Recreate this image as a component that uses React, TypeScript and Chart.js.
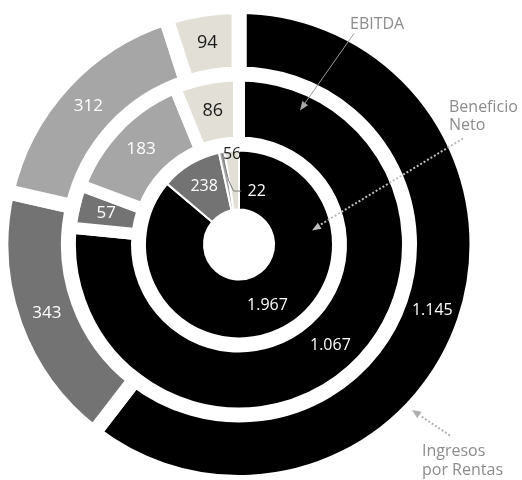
import React, { useEffect, useRef } from 'react';
import { Chart, registerables } from 'chart.js';

Chart.register(...registerables);

// ---- data ----
const categories = ['Segmento A', 'Segmento B', 'Segmento C', 'Segmento D'];
const ringNames = ['Ingresos por Rentas', 'EBITDA', 'Beneficio Neto'];
const ingresos = [1145, 343, 312, 94];
const ebitda = [1067, 57, 183, 86];
const beneficio = [1967, 238, 22, 56];

// ---- style ----
const COLORS = ['#000000', '#737373', '#a6a6a6', '#e2dfd6'];
const LABEL_DARK = '#1a1a1a';
const NOTE_COLOR = '#8c8c8c';
const FONT = '"Open Sans", "Noto Sans", sans-serif';

const fmt = (n: number) => String(n).replace(/\B(?=(\d{3})+(?!\d))/g, '.');

const RING_DATASETS = [0, 1, 3];

function arrowHead(ctx: CanvasRenderingContext2D, fx: number, fy: number, tx: number, ty: number, len: number, wid: number, color: string) {
  const a = Math.atan2(ty - fy, tx - fx);
  ctx.save();
  ctx.fillStyle = color;
  ctx.beginPath();
  ctx.moveTo(tx, ty);
  ctx.lineTo(tx - len * Math.cos(a) + (wid / 2) * Math.sin(a), ty - len * Math.sin(a) - (wid / 2) * Math.cos(a));
  ctx.lineTo(tx - len * Math.cos(a) - (wid / 2) * Math.sin(a), ty - len * Math.sin(a) + (wid / 2) * Math.cos(a));
  ctx.closePath();
  ctx.fill();
  ctx.restore();
}

const labelPlugin = {
  id: 'ringLabels',
  afterDatasetsDraw(chart: any) {
    const ctx: CanvasRenderingContext2D = chart.ctx;
    ctx.save();
    ctx.textAlign = 'center';
    ctx.textBaseline = 'middle';
    let cx = 0;
    let cy = 0;
    RING_DATASETS.forEach((dsIndex, ringIndex) => {
      const meta = chart.getDatasetMeta(dsIndex);
      const values: number[] = chart.data.datasets[dsIndex].data;
      meta.data.forEach((arc: any, j: number) => {
        const p = arc.getProps(['x', 'y', 'startAngle', 'endAngle', 'innerRadius', 'outerRadius'], true);
        cx = p.x;
        cy = p.y;
        const mid = (p.startAngle + p.endAngle) / 2;
        let r = (p.innerRadius + p.outerRadius) / 2;
        if (ringIndex === 2) r += 3;
        const v = values[j];
        let size = v >= 1000 ? 16 : 17;
        if (ringIndex < 2 && j === 3) size = 18;
        if (ringIndex === 2) size = 16;
        ctx.font = `${size}px ${FONT}`;
        ctx.fillStyle = j === 3 ? LABEL_DARK : '#ffffff';
        if (ringIndex === 2 && j === 2) {
          // leader line for the thin slice
          const r0 = p.outerRadius - 2;
          const x0 = p.x + r0 * Math.cos(mid);
          const y0 = p.y + r0 * Math.sin(mid);
          ctx.save();
          ctx.strokeStyle = '#7a7a7a';
          ctx.lineWidth = 1;
          ctx.beginPath();
          ctx.moveTo(x0, y0);
          ctx.lineTo(x0 + 6.5, y0 + 26.5);
          ctx.lineTo(x0 + 11.5, y0 + 37);
          ctx.lineTo(x0 + 19, y0 + 37);
          ctx.stroke();
          ctx.restore();
          ctx.fillStyle = '#ffffff';
          ctx.fillText(fmt(v), x0 + 34.5, y0 + 37.5);
          return;
        }
        if (ringIndex === 2 && j === 3) {
          r = p.outerRadius - 4;
        }
        ctx.fillText(fmt(v), p.x + r * Math.cos(mid), p.y + r * Math.sin(mid));
      });
    });

    // ---- ring annotations ----
    ctx.font = `16px ${FONT}`;
    ctx.fillStyle = NOTE_COLOR;
    ctx.textAlign = 'left';
    ctx.textBaseline = 'alphabetic';
    ctx.fillText(ringNames[1], cx + 111, cy - 215.5);
    ctx.fillText('Beneficio', cx + 210, cy - 132.5);
    ctx.fillText('Neto', cx + 210, cy - 114.5);
    ctx.fillText('Ingresos', cx + 183, cy + 211.5);
    ctx.fillText('por Rentas', cx + 183, cy + 230.5);

    // EBITDA arrow (solid)
    ctx.strokeStyle = '#9a9a9a';
    ctx.lineWidth = 1;
    ctx.beginPath();
    ctx.moveTo(cx + 115, cy - 211);
    ctx.lineTo(cx + 65, cy - 140);
    ctx.stroke();
    arrowHead(ctx, cx + 115, cy - 211, cx + 61, cy - 134, 9, 7, '#a8a8a8');

    // Beneficio Neto arrow (dotted)
    ctx.save();
    ctx.strokeStyle = '#bdbdbd';
    ctx.lineWidth = 2;
    ctx.setLineDash([2, 2]);
    ctx.beginPath();
    ctx.moveTo(cx + 224, cy - 106);
    ctx.lineTo(cx + 80, cy - 19);
    ctx.stroke();
    ctx.restore();
    arrowHead(ctx, cx + 224, cy - 106, cx + 73, cy - 14, 9, 7, '#bdbdbd');

    // Ingresos arrow (dotted)
    ctx.save();
    ctx.strokeStyle = '#b0b0b0';
    ctx.lineWidth = 2;
    ctx.setLineDash([2, 2]);
    ctx.beginPath();
    ctx.moveTo(cx + 211, cy + 191);
    ctx.lineTo(cx + 181, cy + 171);
    ctx.stroke();
    ctx.restore();
    arrowHead(ctx, cx + 211, cy + 191, cx + 173, cy + 165.5, 9, 8, '#b0b0b0');

    ctx.restore();
  },
};

export default function App() {
  const ref = useRef<HTMLCanvasElement | null>(null);

  useEffect(() => {
    const canvas = ref.current;
    if (!canvas) return;
    const common = {
      backgroundColor: COLORS,
      borderColor: '#ffffff',
      borderJoinStyle: 'miter' as const,
      hoverOffset: 0,
      offset: 0,
      hoverBorderWidth: 0,
    };
    const chart = new Chart(canvas, {
      type: 'doughnut',
      data: {
        labels: categories,
        datasets: [
          { label: ringNames[0], data: ingresos, ...common, borderWidth: 15, weight: 67.5 },
          { label: ringNames[1], data: ebitda, ...common, borderWidth: 12, weight: 68.5 },
          {
            label: 'spacer',
            data: [1],
            backgroundColor: 'rgba(0,0,0,0)',
            borderWidth: 0,
            hoverOffset: 0,
            weight: 8,
          },
          { label: ringNames[2], data: beneficio, ...common, borderWidth: 2, weight: 59 },
        ],
      },
      options: {
        responsive: false,
        animation: false,
        events: [],
        radius: 238,
        cutout: '14.706%',
        layout: { padding: { left: 0, right: 44, top: 9, bottom: 0 } },
        plugins: {
          legend: { display: false },
          tooltip: { enabled: false },
        },
      } as any,
      plugins: [labelPlugin],
    });
    return () => chart.destroy();
  }, []);

  return (
    <div style={{ position: 'fixed', left: 0, top: 0, width: 522, height: 480, background: '#fff' }}>
      <canvas ref={ref} width={522} height={480} style={{ display: 'block' }} />
    </div>
  );
}
